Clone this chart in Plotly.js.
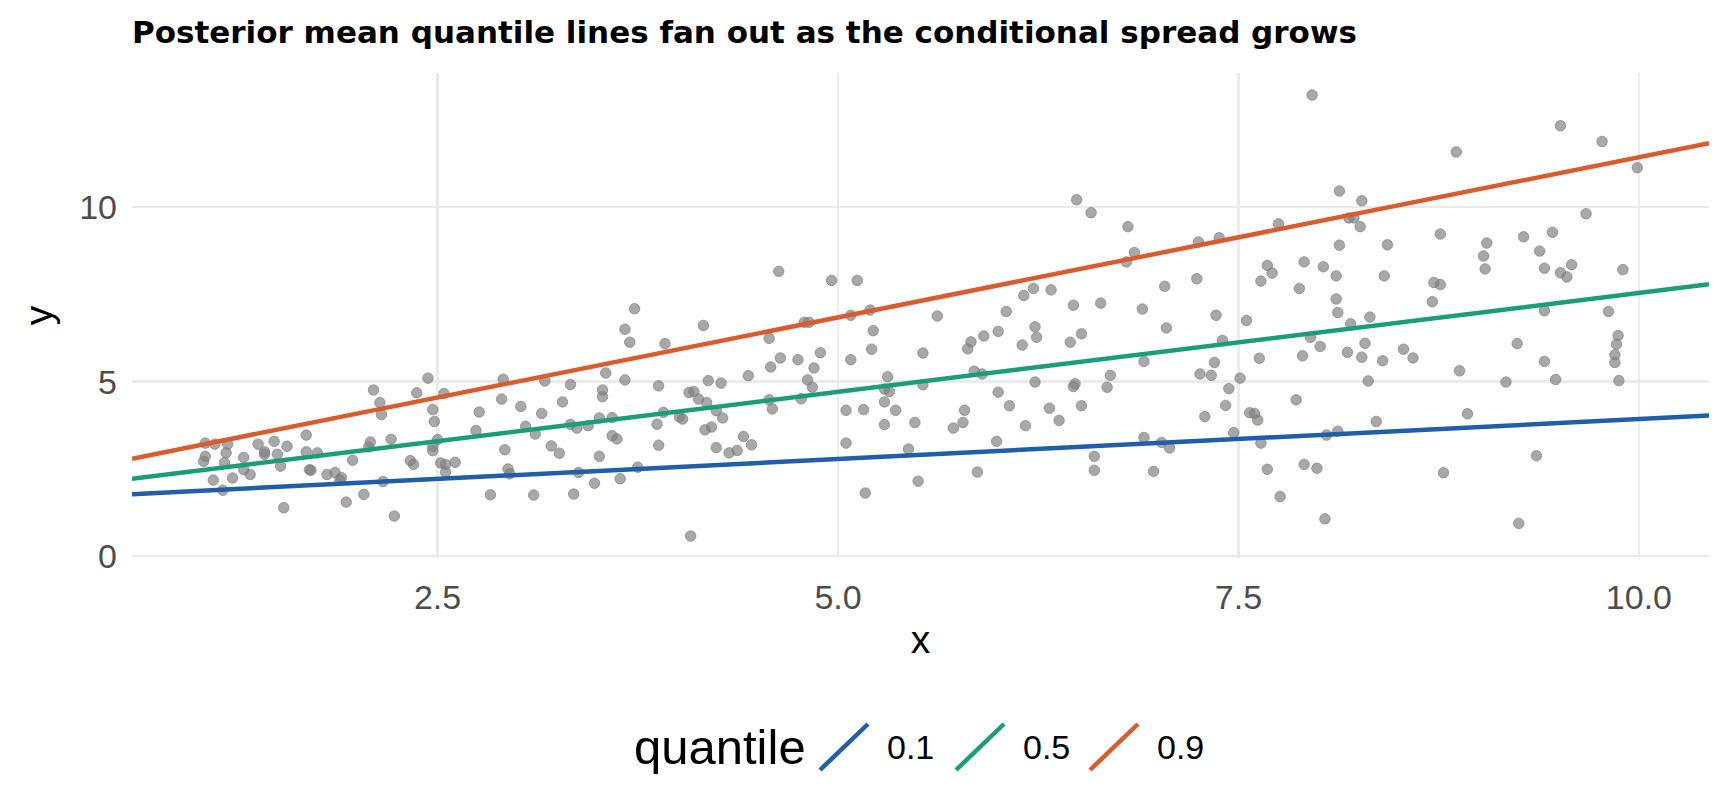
<!DOCTYPE html>
<html>
<head>
<meta charset="utf-8">
<script src="https://cdn.plot.ly/plotly-3.0.1.min.js"></script>
<style>
html,body{margin:0;padding:0;background:#fff;}
#chart{width:1728px;height:806px;}
</style>
</head>
<body>
<div id="chart"></div>
<script>
// ---- data ----
const pointX = [
1.05,1.11,1.19,1.05,1.04,1.18,1.17,1.10,1.16,1.22,1.29,1.29,1.33,1.38,1.42,1.42,1.48,1.50,1.52,1.56,
1.54,1.68,1.68,1.70,1.71,1.75,1.81,1.86,1.90,1.89,1.97,1.93,2.04,2.08,2.07,2.10,2.14,2.15,2.16,2.21,
2.23,2.33,2.35,2.37,2.44,2.47,2.48,2.47,2.47,2.50,2.54,2.52,2.55,2.55,2.61,
2.76,2.74,2.83,2.90,2.91,2.92,2.94,2.95,3.02,3.05,3.11,3.10,3.15,3.17,3.21,3.26,3.28,3.33,3.33,3.37,
3.38,3.35,3.44,3.48,3.51,3.51,3.53,3.53,3.55,3.59,3.59,3.62,3.64,3.67,3.70,3.73,3.67,3.75,3.88,3.87,
3.88,3.91,3.92,4.01,4.03,4.07,4.10,4.08,4.13,4.16,4.18,4.19,4.17,4.21,4.24,4.24,4.27,4.28,4.32,4.37,
4.41,4.44,4.46,
4.63,4.57,4.64,4.58,4.75,4.79,4.82,4.89,4.85,4.81,4.84,4.57,4.59,4.77,4.96,5.12,5.08,5.20,5.22,5.08,
5.21,5.05,5.16,5.05,5.17,5.31,5.29,5.32,5.29,5.36,5.29,5.44,5.48,5.50,5.53,5.53,5.62,5.72,5.78,5.79,
5.81,5.83,5.85,5.90,5.87,5.91,5.99,6.00,6.00,6.05,6.07,6.16,6.22,6.15,6.23,6.24,6.23,6.17,6.32,6.33,
6.38,6.45,6.47,6.48,6.47,
6.49,6.58,6.81,6.85,6.80,7.25,7.38,7.24,7.04,6.64,6.90,7.05,7.36,7.55,6.52,6.91,6.70,6.68,6.52,6.60,
6.60,6.91,7.02,7.07,6.97,7.26,7.33,7.35,7.40,7.44,7.51,7.42,7.29,7.47,7.63,7.57,7.60,7.62,7.64,7.68,
7.76,7.64,7.68,7.71,7.75,7.88,7.91,7.96,8.03,7.95,7.90,8.01,7.86,8.05,8.12,7.91,7.99,8.04,8.11,8.11,
8.12,8.13,8.13,8.20,8.18,8.19,8.22,8.27,8.26,8.27,8.29,8.31,8.32,8.36,8.40,8.41,8.43,8.53,
8.59,8.71,8.72,8.76,8.76,8.86,8.88,8.93,8.78,9.03,9.04,9.05,9.17,9.24,9.25,9.28,9.36,9.38,9.41,9.41,
9.41,9.46,9.48,9.51,9.51,9.55,9.58,9.67,9.77,9.81,9.87,9.86,9.85,9.85,9.875,9.90,9.99
];
const pointY = [
3.24,3.21,3.21,2.86,2.72,2.96,2.68,2.18,1.89,2.24,2.83,2.48,2.34,3.21,2.99,2.92,3.29,2.92,2.58,3.15,
1.39,3.47,2.99,2.48,2.46,2.96,2.34,2.40,2.25,2.18,2.75,1.55,1.77,3.27,3.13,4.76,4.40,4.06,2.14,3.35,
1.15,2.74,2.63,4.68,5.10,4.20,3.86,3.15,3.02,3.34,4.66,2.67,2.63,2.41,2.69,
4.13,3.60,1.76,4.50,5.07,3.05,2.50,2.36,4.29,3.72,3.50,1.75,4.09,5.02,3.16,2.95,4.42,4.92,3.78,3.67,
2.40,1.78,3.74,2.09,2.86,3.96,4.76,4.57,5.25,3.45,3.97,3.36,2.22,6.50,6.13,7.09,5.05,2.55,4.88,3.78,
3.18,4.12,6.09,3.99,3.93,4.69,4.72,0.58,4.50,6.61,4.40,5.03,3.62,3.70,4.17,3.11,4.96,3.96,2.96,3.03,
3.43,5.17,3.19,
8.16,6.24,5.68,5.42,5.63,6.70,6.70,5.83,5.39,5.05,4.84,4.48,4.22,4.51,7.90,7.90,6.90,7.05,6.46,5.63,
5.93,4.18,4.20,3.24,1.81,5.14,4.79,4.72,4.42,4.18,3.77,3.07,3.83,2.15,5.82,4.91,6.88,3.67,3.83,4.18,
5.94,6.14,5.30,5.22,2.41,6.31,3.29,6.44,4.70,7.01,4.31,7.47,7.67,6.05,6.57,6.27,4.99,3.74,4.24,7.63,
3.89,6.13,7.19,4.94,4.86,
10.21,9.84,9.44,8.70,8.43,9.00,9.12,7.95,7.73,7.25,7.08,6.54,6.90,6.75,6.37,5.58,5.18,4.84,4.31,2.86,
2.46,3.40,3.26,3.10,2.43,5.22,5.18,5.55,6.18,4.80,5.10,4.32,4.00,3.54,5.67,4.11,4.09,3.90,3.24,2.49,
1.71,7.88,8.33,8.11,9.52,7.67,8.43,13.21,8.29,6.27,5.74,6.01,4.48,3.47,3.58,2.63,2.52,1.07,8.03,7.37,
6.98,8.91,10.46,6.66,5.84,9.69,9.69,10.18,9.44,5.70,6.10,5.02,6.85,3.86,5.60,8.03,8.92,5.93,
5.68,7.29,7.84,7.78,9.23,11.58,5.31,4.08,2.39,8.60,8.23,8.97,4.99,6.09,0.94,9.15,2.88,8.74,8.25,7.03,
5.58,9.28,5.06,12.33,8.12,8.00,8.35,9.81,11.88,7.01,6.32,6.07,5.77,5.55,5.03,8.21,11.13
];
// posterior mean quantile lines: y = intercept + slope * x
const quantiles  = ['0.1', '0.5', '0.9'];
const intercepts = [1.64, 1.88, 2.25];
const slopes     = [0.229, 0.566, 0.918];
const xTickVals  = [2.5, 5, 7.5, 10];
const xTickText  = ['2.5', '5.0', '7.5', '10.0'];
const yTickVals  = [0, 5, 10];
const yTickText  = ['0', '5', '10'];

// ---- styling ----
const lineColors = ['#1F5FA8', '#1B9E77', '#D95B2E'];
function expand(arr){ const lo=Math.min(...arr), hi=Math.max(...arr), d=(hi-lo)*0.05; return [lo-d, hi+d]; }
const xr = expand(pointX), yr = expand(pointY);

const W = 1728, H = 806;
const M = {l:132, r:19, t:73, b:248};
const PW = W - M.l - M.r, PH = H - M.t - M.b;
// pixel -> paper helpers (for legend layout only)
const px = v => (v - M.l) / PW;
const py = v => (H - M.b - v) / PH;

const traces = [{
  type:'scatter', mode:'markers', x:pointX, y:pointY, showlegend:false, hoverinfo:'skip',
  marker:{size:10.5, color:'rgba(127,127,127,0.68)', line:{width:1, color:'rgba(127,127,127,0.68)'}}
}];
quantiles.forEach((q,i)=>{
  traces.push({
    type:'scatter', mode:'lines', name:q, showlegend:false,
    x:[xr[0], xr[1]], y:[intercepts[i]+slopes[i]*xr[0], intercepts[i]+slopes[i]*xr[1]],
    line:{color:lineColors[i], width:4.5}
  });
});

const FONT = 'Liberation Sans, Arial, Helvetica, sans-serif';

// legend (ggplot-style, diagonal keys)
const legendMid = 747;
const keyStarts = [820, 956, 1090];
const keyLen = 48, keyHalfH = 23;
const labelStarts = [887, 1023, 1157];
const shapes = quantiles.map((q,i)=>({
  type:'line', xref:'paper', yref:'paper',
  x0:px(keyStarts[i]), y0:py(legendMid+keyHalfH), x1:px(keyStarts[i]+keyLen), y1:py(legendMid-keyHalfH),
  line:{color:lineColors[i], width:4.5}
}));
const annotations = [{
  xref:'paper', yref:'paper', x:px(632), y:py(legendMid), xanchor:'left', yanchor:'middle',
  text:'quantile', showarrow:false, font:{family:FONT, size:49, color:'#000'}
}].concat(quantiles.map((q,i)=>({
  xref:'paper', yref:'paper', x:px(labelStarts[i]-2), y:py(legendMid), xanchor:'left', yanchor:'middle',
  text:q, showarrow:false, font:{family:FONT, size:34, color:'#000'}
})));

const layout = {
  width:W, height:H,
  margin:M,
  paper_bgcolor:'#fff', plot_bgcolor:'#fff',
  font:{family:FONT, color:'#000'},
  showlegend:false,
  title:{text:'<b>Posterior mean quantile lines fan out as the conditional spread grows</b>',
         font:{family:'DejaVu Sans, Liberation Sans, sans-serif', size:31, color:'#000'},
         xref:'paper', x:0, xanchor:'left', yref:'container', y:1-32/806, yanchor:'middle'},
  xaxis:{range:xr, tickvals:xTickVals, ticktext:xTickText, showgrid:true, gridcolor:'#EBEBEB', gridwidth:2.5,
         zeroline:false, showline:false, ticks:'', ticklabelstandoff:16,
         tickfont:{family:FONT, size:34, color:'#4D4D4D'},
         title:{text:'x', font:{family:FONT, size:39, color:'#000'}, standoff:10}},
  yaxis:{range:yr, tickvals:yTickVals, ticktext:yTickText, showgrid:true, gridcolor:'#EBEBEB', gridwidth:2.5,
         zeroline:false, showline:false, ticks:'', ticklabelstandoff:14,
         tickfont:{family:FONT, size:34, color:'#4D4D4D'},
         title:{text:'y', font:{family:FONT, size:39, color:'#000'}, standoff:14}},
  shapes:shapes,
  annotations:annotations
};
Plotly.newPlot('chart', traces, layout, {staticPlot:true, displayModeBar:false});
</script>
</body>
</html>
